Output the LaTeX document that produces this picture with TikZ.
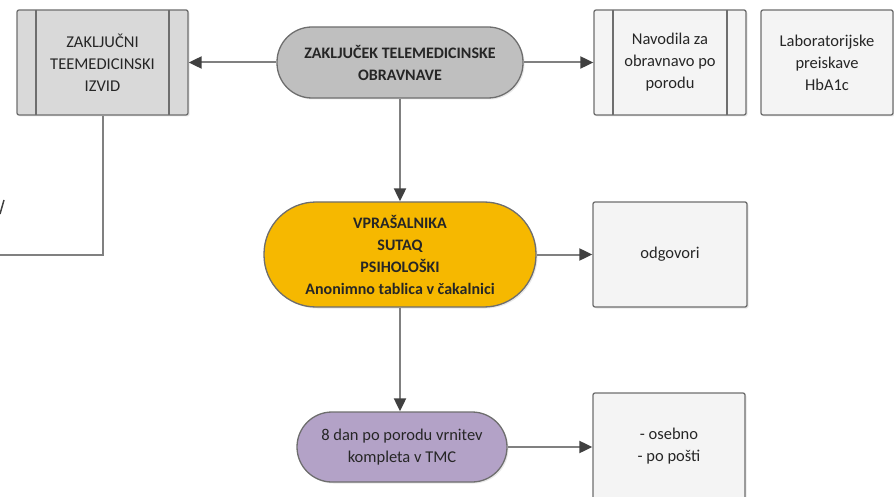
\documentclass[tikz,border=0pt]{standalone}
\usepackage{fontspec}
\setmainfont{Carlito}
\usetikzlibrary{shapes, arrows.meta, calc, shadows}

\definecolor{linegray}{HTML}{808080}
\definecolor{tipgray}{HTML}{404040}
\definecolor{edgegray}{HTML}{6E6E6E}
\definecolor{txtgray}{HTML}{262626}
\definecolor{zakgray}{HTML}{BFBFBF}
\definecolor{izvidgray}{HTML}{D9D9D9}
\definecolor{paleboxgray}{HTML}{F4F4F4}
\definecolor{gold}{HTML}{F6B800}
\definecolor{lavender}{HTML}{B3A2C7}

\tikzset{
	flowbox/.style={draw=edgegray, line width=1.3pt, rounded corners=2pt, align=center,
		text=txtgray, font=\fontsize{16.5}{22}\selectfont, inner sep=0pt,
		drop shadow={opacity=0.18, shadow xshift=1.5pt, shadow yshift=-1.5pt}},
	procbox/.style={flowbox, path picture={
		\draw[edgegray, line width=1.3pt] ($(path picture bounding box.north west)+(19,0)$) -- ($(path picture bounding box.south west)+(19,0)$);
		\draw[edgegray, line width=1.3pt] ($(path picture bounding box.north east)+(-19,0)$) -- ($(path picture bounding box.south east)+(-19,0)$);
	}},
	pill/.style={flowbox, font=\bfseries\fontsize{16}{22}\selectfont},
	link/.style={draw=linegray, line width=2pt, -{Triangle[length=13pt, width=12pt, color=tipgray]}},
}

\begin{document}
\begin{tikzpicture}[x=1pt, y=-1pt]
	\useasboundingbox (0, 0) rectangle (894, 497);

	% top row
	\node[procbox, fill=izvidgray, minimum width=171pt, minimum height=105pt] (izvid) at (102.5, 62.5) {ZAKLJUČNI\\TEEMEDICINSKI\\IZVID};
	\node[pill, fill=zakgray, rounded corners=35pt, minimum width=246pt, minimum height=71pt] (zakljucek) at (400, 62.5) {ZAKLJUČEK TELEMEDICINSKE\\OBRAVNAVE};
	\node[procbox, fill=paleboxgray, minimum width=152pt, minimum height=105pt] (navodila) at (670, 62.5) {Navodila za\\obravnavo po\\porodu};
	\node[flowbox, fill=paleboxgray, minimum width=132pt, minimum height=105pt] (lab) at (827, 62.5) {Laboratorijske\\preiskave\\HbA1c};

	% middle row
	\node[pill, fill=gold, rounded corners=52pt, minimum width=272pt, minimum height=105pt] (vpras) at (400, 254.5) {VPRAŠALNIKA\\SUTAQ\\PSIHOLOŠKI\\Anonimno tablica v čakalnici};
	\node[flowbox, fill=paleboxgray, minimum width=154pt, minimum height=105pt] (odgovori) at (670, 254.5) {odgovori};

	% bottom row
	\node[flowbox, fill=lavender, rounded corners=35pt, minimum width=210pt, minimum height=70pt] (dan) at (402, 447) {8 dan po porodu vrnitev\\kompleta v TMC};
	\node[flowbox, fill=paleboxgray, minimum width=152pt, minimum height=106pt] (osebno) at (669, 446) {- osebno\\- po pošti};

	% connectors
	\draw[link] (zakljucek.west) -- (izvid.east);
	\draw[link] (zakljucek.east) -- (navodila.west);
	\draw[link] (zakljucek.south) -- (vpras.north);
	\draw[link] (vpras.east) -- (odgovori.west);
	\draw[link] (vpras.south) -- (vpras.south |- dan.north);
	\draw[link] (dan.east) -- (dan.east -| osebno.west);

	\coordinate (offleft) at (0, 255);
	\draw[linegray, line width=2pt] (izvid.south) |- (offleft);
	\draw[tipgray, line width=1.5pt] (0, 214) -- (4, 200);
\end{tikzpicture}
\end{document}
